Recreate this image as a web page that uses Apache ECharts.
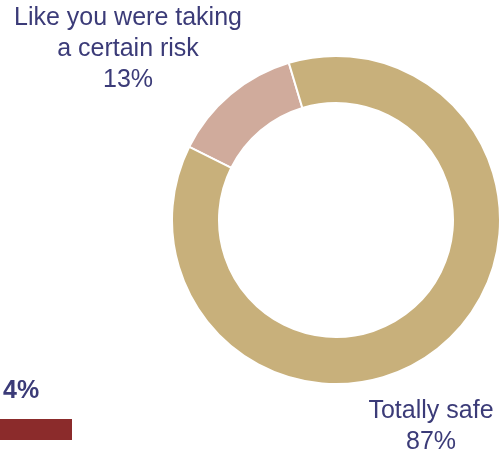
<!DOCTYPE html>
<html>
<head>
<meta charset="utf-8">
<script src="https://cdn.jsdelivr.net/npm/echarts@6/dist/echarts.min.js"></script>
<style>
  html, body { margin: 0; padding: 0; background: #ffffff; }
  #chart { width: 500px; height: 453px; }
</style>
</head>
<body>
<div id="chart"></div>
<script>
// How safe respondents felt (share of answers, %)
const feelingNames = ['Like you were taking\na certain risk', 'Totally safe'];
const feelingValues = [13, 87];
const feelingColors = ['#d0ab9c', '#c8b07b'];

// Separate single-bar indicator
const barNames = ['Other'];
const barValues = [4];

const textColor = '#3b3b78';
const fontFamily = "'Liberation Sans', Arial, sans-serif";

// Where each slice's caption sits (centre of the text block)
const labelSpots = [
  { x: 128, y: 49 },
  { x: 431, y: 427 }
];

const chart = echarts.init(document.getElementById('chart'), null, { renderer: 'canvas' });

chart.setOption({
  animation: false,
  grid: { left: 0, top: 419, width: 90, height: 21 },
  xAxis: { type: 'value', min: 0, max: 5, show: false },
  yAxis: { type: 'category', data: barNames, show: false },
  series: [
    {
      type: 'pie',
      center: [336, 220],
      radius: [117, 164],
      startAngle: 153.5,
      clockwise: true,
      silent: true,
      avoidLabelOverlap: false,
      itemStyle: { borderColor: '#ffffff', borderWidth: 2 },
      data: feelingNames.map((name, i) => ({
        name: name,
        value: feelingValues[i],
        itemStyle: { color: feelingColors[i] }
      })),
      label: {
        show: true,
        formatter: '{b}\n{c}%',
        color: textColor,
        fontFamily: fontFamily,
        fontSize: 25,
        lineHeight: 31,
        align: 'center',
        overflow: 'none'
      },
      labelLine: { show: false },
      labelLayout: function (params) {
        const spot = labelSpots[params.dataIndex];
        return {
          x: spot.x, y: spot.y,
          align: 'center', verticalAlign: 'middle',
          hideOverlap: false, moveOverlap: null
        };
      }
    },
    {
      type: 'bar',
      data: barValues,
      barWidth: '100%',
      silent: true,
      itemStyle: { color: '#8b2b2b' },
      label: {
        show: true,
        position: [3, -40],
        formatter: '{c}%',
        color: textColor,
        fontFamily: fontFamily,
        fontSize: 25,
        fontWeight: 'bold'
      }
    }
  ]
});
</script>
</body>
</html>
